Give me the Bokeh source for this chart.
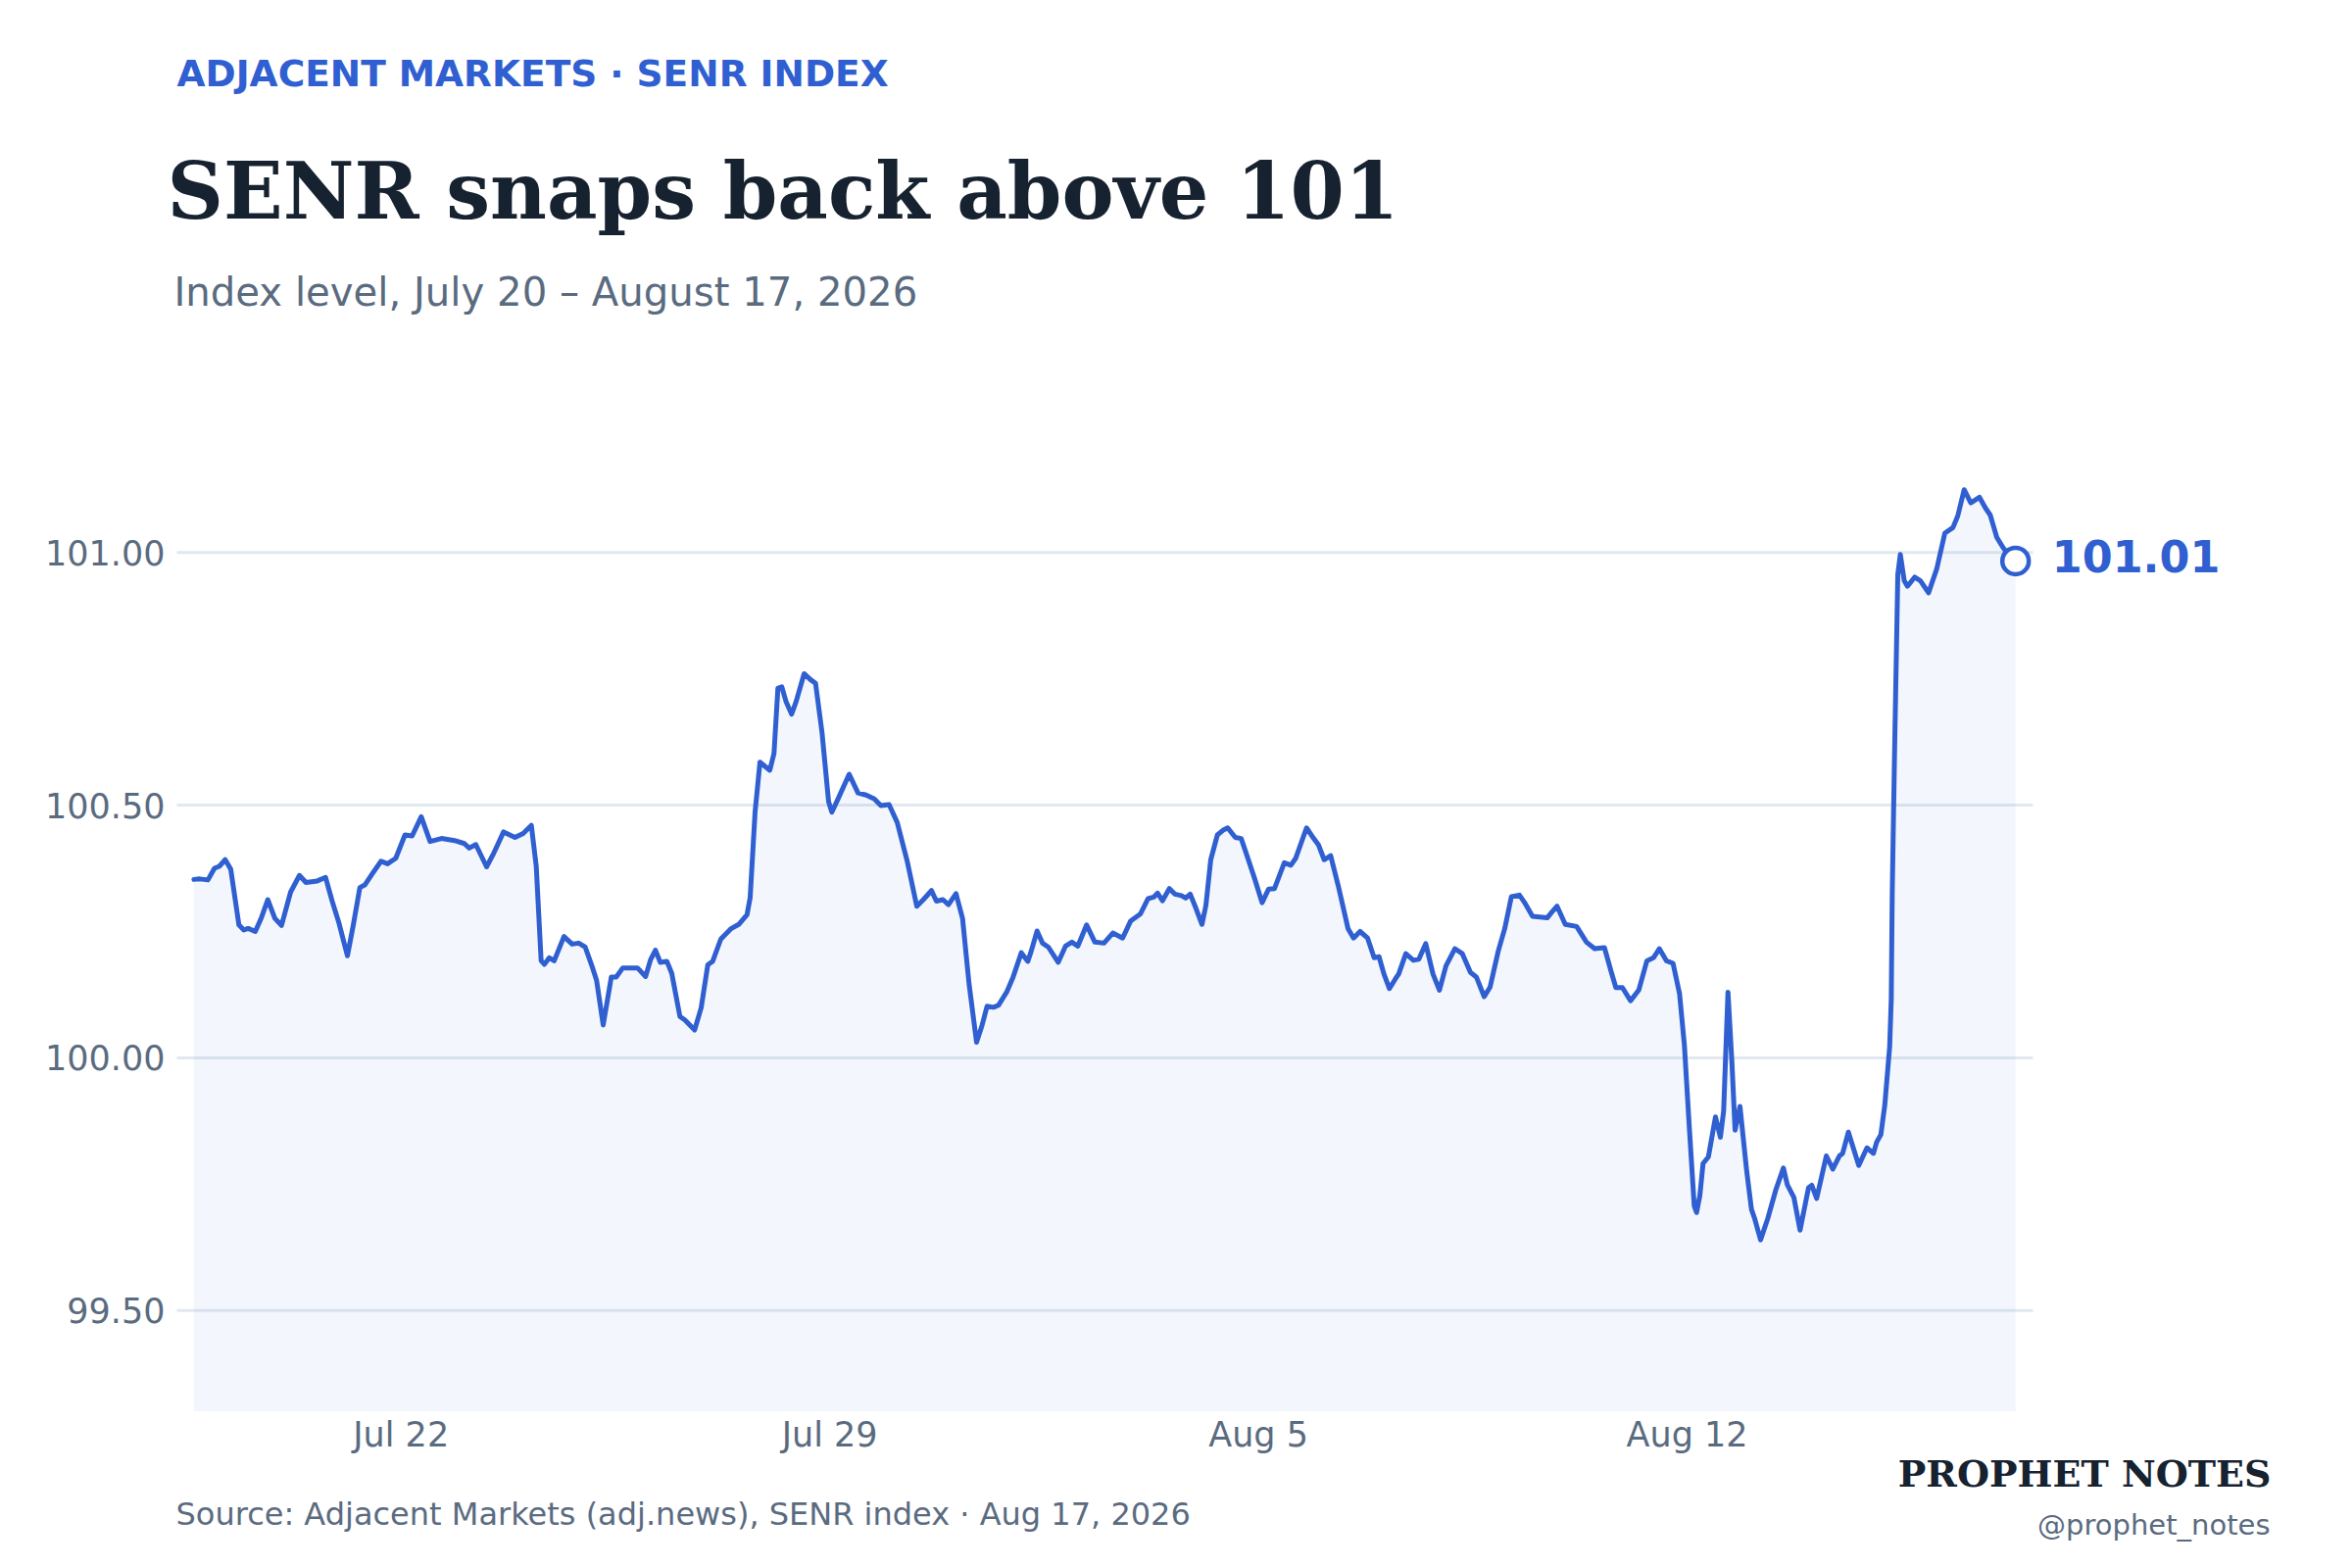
from bokeh.plotting import figure
from bokeh.layouts import column
from bokeh.models import Range1d, FixedTicker, NumeralTickFormatter, ColumnDataSource, Title
from bokeh.core.properties import value
from bokeh.embed import file_html
from bokeh.resources import INLINE

# ---- data: days since 2026-07-18 00:00 and SENR index level ----
days_since_jul18 = [
    0.617, 0.713, 0.847, 0.953, 1.033, 1.129, 1.220, 1.353, 1.433, 1.504,
    1.620, 1.716, 1.824, 1.940, 2.048, 2.197, 2.341, 2.448, 2.633, 2.768,
    2.873, 2.981, 3.125, 3.221, 3.328, 3.408, 3.541, 3.674, 3.781, 3.914,
    4.064, 4.181, 4.330, 4.474, 4.661, 4.874, 5.034, 5.114, 5.221, 5.397,
    5.514, 5.674, 5.861, 5.994, 6.128, 6.208, 6.288, 6.341, 6.421, 6.501,
    6.661, 6.794, 6.901, 7.008, 7.114,
    7.194, 7.301, 7.434, 7.514, 7.621, 7.861, 7.994, 8.074, 8.154, 8.234,
    8.341, 8.421, 8.554, 8.634, 8.794, 8.901, 9.009, 9.089, 9.222, 9.382,
    9.514, 9.649, 9.701, 9.781, 9.861, 10.022, 10.090, 10.154, 10.218, 10.289,
    10.378, 10.449, 10.582, 10.689, 10.769, 10.875, 10.982, 11.035, 11.142, 11.318,
    11.462, 11.595, 11.729, 11.835, 11.969, 12.102, 12.262, 12.422, 12.529, 12.662,
    12.742, 12.849, 12.939, 13.062, 13.169, 13.275, 13.398, 13.489, 13.569, 13.675,
    13.755,
    13.889, 13.995, 14.129, 14.235, 14.290, 14.386, 14.475, 14.571, 14.731, 14.850,
    14.955, 15.051, 15.195, 15.330, 15.478, 15.623, 15.783, 15.915, 16.075, 16.199,
    16.290, 16.354, 16.434, 16.546, 16.635, 16.743, 16.812, 16.887, 16.983, 17.079,
    17.143, 17.222, 17.330, 17.419, 17.499, 17.623, 17.719, 17.836, 17.943, 18.060,
    18.167, 18.263, 18.423, 18.530, 18.610, 18.786, 18.903, 18.983, 19.074, 19.180,
    19.303, 19.463, 19.554, 19.660, 19.783, 19.890, 19.970, 20.050, 20.140, 20.236,
    20.291, 20.407, 20.531, 20.620, 20.732, 20.851, 20.956, 21.063, 21.208, 21.331,
    21.463, 21.559, 21.687, 21.783, 21.916, 22.023, 22.131, 22.263, 22.343, 22.476,
    22.716, 22.796, 22.877, 23.011, 23.197, 23.357, 23.491, 23.651, 23.757, 23.837,
    23.944, 24.077, 24.211, 24.344, 24.451, 24.547, 24.664, 24.771, 24.877, 24.957,
    25.037, 25.117, 25.155, 25.208, 25.261, 25.348, 25.464, 25.544, 25.597, 25.668,
    25.732, 25.784, 25.864, 25.972, 26.052, 26.104, 26.200, 26.317, 26.452, 26.573,
    26.637, 26.744, 26.845,
    26.983, 27.036, 27.116, 27.274, 27.380, 27.487, 27.540, 27.634, 27.804, 27.937,
    28.042, 28.095, 28.164, 28.228, 28.308, 28.334, 28.350, 28.386, 28.441, 28.482,
    28.546, 28.599, 28.716, 28.810, 28.943, 29.076, 29.209, 29.341, 29.420, 29.525,
    29.633, 29.775, 29.871, 29.950, 30.057, 30.162, 30.284, 30.364,
]

senr_level = [
    100.353, 100.354, 100.352, 100.375, 100.379, 100.392, 100.373, 100.263, 100.253, 100.256,
    100.250, 100.276, 100.313, 100.276, 100.262, 100.328, 100.361, 100.347, 100.350, 100.357,
    100.311, 100.269, 100.202, 100.263, 100.337, 100.342, 100.366, 100.389, 100.384, 100.395,
    100.441, 100.439, 100.477, 100.428, 100.434, 100.430, 100.424, 100.415, 100.422, 100.378,
    100.405, 100.447, 100.436, 100.444, 100.460, 100.379, 100.192, 100.185, 100.198, 100.192,
    100.240, 100.225, 100.227, 100.219, 100.183,
    100.153, 100.065, 100.160, 100.160, 100.178, 100.178, 100.161, 100.194, 100.213, 100.189,
    100.191, 100.167, 100.082, 100.075, 100.055, 100.099, 100.184, 100.191, 100.235, 100.255,
    100.264, 100.283, 100.317, 100.486, 100.585, 100.569, 100.602, 100.731, 100.734, 100.704,
    100.680, 100.704, 100.760, 100.748, 100.741, 100.643, 100.507, 100.486, 100.514, 100.561,
    100.524, 100.520, 100.512, 100.499, 100.501, 100.466, 100.391, 100.300, 100.313, 100.331,
    100.310, 100.313, 100.303, 100.325, 100.276, 100.147, 100.031, 100.065, 100.102, 100.100,
    100.104,
    100.130, 100.160, 100.208, 100.191, 100.211, 100.251, 100.227, 100.219, 100.189, 100.221,
    100.229, 100.221, 100.263, 100.229, 100.227, 100.247, 100.237, 100.271, 100.285, 100.315,
    100.318, 100.326, 100.311, 100.335, 100.324, 100.321, 100.316, 100.324, 100.295, 100.264,
    100.302, 100.392, 100.441, 100.450, 100.455, 100.436, 100.434, 100.392, 100.353, 100.307,
    100.334, 100.335, 100.386, 100.381, 100.395, 100.455, 100.434, 100.421, 100.392, 100.400,
    100.341, 100.256, 100.237, 100.250, 100.237, 100.198, 100.200, 100.166, 100.137, 100.156,
    100.166, 100.206, 100.193, 100.195, 100.226, 100.166, 100.134, 100.182, 100.216, 100.206,
    100.169, 100.160, 100.121, 100.140, 100.211, 100.256, 100.319, 100.322, 100.308, 100.280,
    100.277, 100.289, 100.300, 100.264, 100.260, 100.229, 100.216, 100.218, 100.172, 100.139,
    100.139, 100.113, 100.134, 100.192, 100.198, 100.216, 100.192, 100.187, 100.127, 100.024,
    99.862, 99.707, 99.694, 99.727, 99.791, 99.804, 99.883, 99.843, 99.895, 100.130,
    99.992, 99.857, 99.904, 99.778, 99.700, 99.682, 99.640, 99.682, 99.740, 99.782,
    99.749, 99.724, 99.659,
    99.743, 99.748, 99.722, 99.806, 99.780, 99.806, 99.811, 99.853, 99.787, 99.822,
    99.811, 99.833, 99.848, 99.906, 100.022, 100.116, 100.326, 100.589, 100.956, 100.996,
    100.944, 100.933, 100.951, 100.944, 100.920, 100.967, 101.038, 101.049, 101.072, 101.124,
    101.098, 101.109, 101.088, 101.074, 101.030, 101.009, 100.990, 100.983,
]

latest_label = "101.01"
x_tick_days = [4, 11, 18, 25]
x_tick_labels = ["Jul 22", "Jul 29", "Aug 5", "Aug 12"]
y_ticks = [99.5, 100.0, 100.5, 101.0]
y_start, y_end = 99.3, 101.2
x_grid_start, x_grid_end = 0.340, 30.649

kicker = "ADJACENT MARKETS · SENR INDEX"
headline = "SENR snaps back above 101"
subtitle = "Index level, July 20 – August 17, 2026"
source_note = "Source: Adjacent Markets (adj.news), SENR index · Aug 17, 2026"
brand = "PROPHET NOTES"
handle = "@prophet_notes"

BLUE = "#2f5fd0"
SLATE = "#5a6b80"
INK = "#16222f"
GRID = "#e2e8f0"
SANS = "DejaVu Sans"
SERIF = "DejaVu Serif"

# ---- layout geometry (pixels) ----
W = 2384
FRAME_L, FRAME_R = 172, 2330          # shared (aligned) frame edges
GRID_L = 180                           # where grid and data area begin
PX_PER_DAY = 62.49
FRAME_H = 980
HEADER_H = 460
MAIN_H = 1065
FOOT_TOP = HEADER_H + MAIN_H
FOOT_H = 1584 - FOOT_TOP
BASE_SHIFT = 0.35                      # bokeh's alphabetic anchor offset, in em

x_start = x_grid_start - (GRID_L - FRAME_L) / PX_PER_DAY
x_end = x_grid_start + (FRAME_R - GRID_L) / PX_PER_DAY


def blank_panel(height, top):
    f = figure(width=W, height=height, output_backend="svg", toolbar_location=None,
               x_axis_type=None, y_axis_type=None, title=None,
               x_range=Range1d(FRAME_L, FRAME_R), y_range=Range1d(top + height, top),
               min_border=0)
    f.outline_line_color = None
    f.grid.visible = False
    f.background_fill_color = "white"
    f.border_fill_color = "white"
    return f


def put_text(f, x, baseline, txt, size, color, font=SANS, style="normal", align="left"):
    f.text(x=[x], y=[baseline - BASE_SHIFT * size], text=[txt], text_font=value(font),
           text_font_size=f"{size}px", text_color=color, text_font_style=style,
           text_align=align, text_baseline="alphabetic")


# ---- header ----
header = blank_panel(HEADER_H, 0)
put_text(header, 180, 88, kicker, 37.5, BLUE, style="bold")
put_text(header, 170, 222, headline, 79.6, INK, font=SERIF, style="bold")
put_text(header, 177, 311.5, subtitle, 40.2, SLATE)

# ---- main chart ----
src = ColumnDataSource(dict(x=days_since_jul18, y=senr_level,
                            base=[y_start] * len(senr_level)))

p = figure(width=W, height=MAIN_H, output_backend="svg", toolbar_location=None,
           title=None,
           x_range=Range1d(x_start, x_end), y_range=Range1d(y_start, y_end),
           min_border_left=FRAME_L, min_border_right=W - FRAME_R, min_border_top=0,
           min_border_bottom=MAIN_H - FRAME_H)
p.outline_line_color = None
p.background_fill_color = "white"
p.border_fill_color = "white"
p.xgrid.visible = False
p.ygrid.visible = False

p.segment(x0=[x_grid_start] * len(y_ticks), x1=[x_grid_end] * len(y_ticks),
          y0=y_ticks, y1=y_ticks, line_color=GRID, line_width=3, level="underlay")

p.varea(x="x", y1="base", y2="y", source=src, fill_color=BLUE, fill_alpha=0.06)
p.line(x="x", y="y", source=src, line_color=BLUE, line_width=5, line_join="round",
       line_cap="round")

last_x = days_since_jul18[-1]
last_y = senr_level[-1]
p.scatter(x=[last_x], y=[last_y], size=27, marker="circle", fill_color="white",
          line_color=BLUE, line_width=4.5)
p.text(x=[last_x], y=[last_y], text=[latest_label], x_offset=37,
       y_offset=11 - BASE_SHIFT * 44.5,
       text_font=value(SANS), text_font_style="bold", text_font_size="44.5px",
       text_color=BLUE, text_baseline="alphabetic", text_align="left")

for ax in (p.xaxis[0], p.yaxis[0]):
    ax.axis_line_color = None
    ax.major_tick_line_color = None
    ax.minor_tick_line_color = None
    ax.major_tick_out = 0
    ax.major_tick_in = 0
    ax.minor_tick_out = 0
    ax.major_label_text_font = SANS
    ax.major_label_text_font_size = "35px"
    ax.major_label_text_color = SLATE

p.xaxis.ticker = FixedTicker(ticks=x_tick_days)
p.xaxis.major_label_overrides = {d: lab for d, lab in zip(x_tick_days, x_tick_labels)}
p.xaxis.major_label_standoff = 3
p.yaxis.ticker = FixedTicker(ticks=y_ticks)
p.yaxis.formatter = NumeralTickFormatter(format="0.00")
p.yaxis.major_label_standoff = 4

# brand sits right under the x-axis labels, right-aligned to the page
p.add_layout(Title(text=brand, align="right", offset=FRAME_R - 2317,
                   vertical_align="top", standoff=-12, text_font=SERIF,
                   text_font_style="bold", text_font_size="38px", text_color=INK,
                   text_line_height=1.0), "below")

# ---- footer ----
footer = blank_panel(FOOT_H, FOOT_TOP)
put_text(footer, 179, 1556, source_note, 32, SLATE)
put_text(footer, 2316, 1566, handle, 29, SLATE, align="right")

layout = column(header, p, footer, spacing=0)
open("out.html", "w").write(file_html(layout, INLINE))
